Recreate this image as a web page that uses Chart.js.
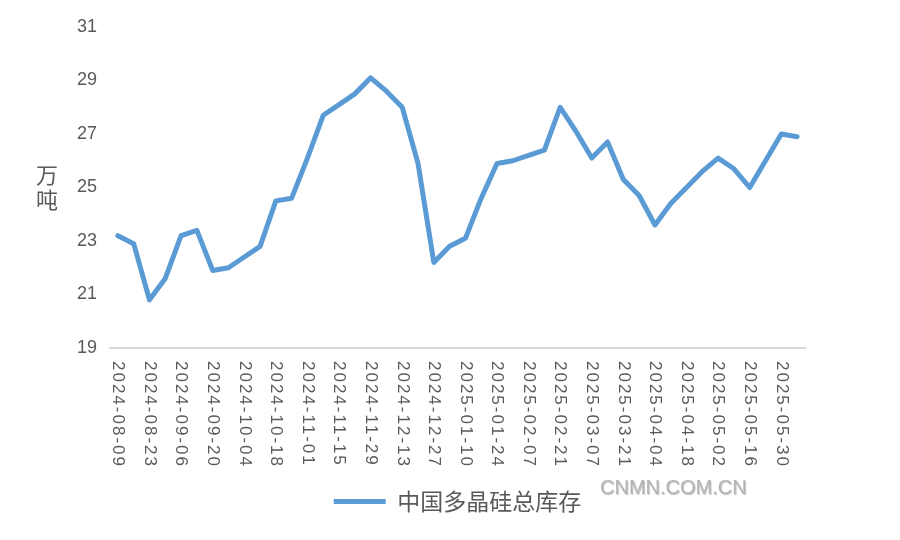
<!DOCTYPE html>
<html>
<head>
<meta charset="utf-8">
<title>中国多晶硅总库存</title>
<script src="https://cdn.jsdelivr.net/npm/chart.js@4.4.1/dist/chart.umd.min.js"></script>
<style>
  html, body { margin: 0; padding: 0; background: #ffffff; }
  #wrap { width: 900px; height: 540px; position: relative; }
</style>
</head>
<body>
<div id="wrap"><canvas id="stock_chart"></canvas></div>
<script>
// weekly dates (every Friday)
const dates = [
  '2024-08-09', '2024-08-16', '2024-08-23', '2024-08-30', '2024-09-06', '2024-09-13',
  '2024-09-20', '2024-09-27', '2024-10-04', '2024-10-11', '2024-10-18', '2024-10-25',
  '2024-11-01', '2024-11-08', '2024-11-15', '2024-11-22', '2024-11-29', '2024-12-06',
  '2024-12-13', '2024-12-20', '2024-12-27', '2025-01-03', '2025-01-10', '2025-01-17',
  '2025-01-24', '2025-01-31', '2025-02-07', '2025-02-14', '2025-02-21', '2025-02-28',
  '2025-03-07', '2025-03-14', '2025-03-21', '2025-03-28', '2025-04-04', '2025-04-11',
  '2025-04-18', '2025-04-25', '2025-05-02', '2025-05-09', '2025-05-16', '2025-05-23',
  '2025-05-30', '2025-06-06'
];

// total polysilicon stock, 10k tonnes
const stock = [
  23.2, 22.9, 20.8, 21.6, 23.2, 23.4, 21.9, 22.0, 22.4, 22.8, 24.5, 24.6,
  26.1, 27.7, 28.1, 28.5, 29.1, 28.6, 28.0, 25.9, 22.2, 22.8, 23.1, 24.6,
  25.9, 26.0, 26.2, 26.4, 28.0, 27.1, 26.1, 26.7, 25.3, 24.7, 23.6, 24.4,
  25.0, 25.6, 26.1, 25.7, 25.0, 26.0, 27.0, 26.9
];

const yTicks = [19, 21, 23, 25, 27, 29, 31];
const seriesName = '中国多晶硅总库存';
const yTitle = ['万', '吨'];
const watermark = 'CNMN.COM.CN';

const textGray = '#595959';
const lineBlue = '#5b9bd5';

// draws the rotated date labels (reading top to bottom), the stacked y title and the watermark
const extraText = {
  id: 'extraText',
  afterLayout(chart) {
    // centre the legend under the plot area instead of the whole canvas
    if (chart.legend) chart.legend.left = chart.chartArea.left;
  },
  afterDraw(chart) {
    const ctx = chart.ctx;
    const xs = chart.scales.x;
    const area = chart.chartArea;
    ctx.save();
    ctx.fillStyle = textGray;
    ctx.font = '17px "Liberation Sans", Arial, sans-serif';
    ctx.letterSpacing = '2px';
    ctx.textAlign = 'left';
    ctx.textBaseline = 'middle';
    dates.forEach((d, i) => {
      if (i % 2) return; // one label every two weeks
      ctx.save();
      ctx.translate(xs.getPixelForValue(i), area.bottom + 13);
      ctx.rotate(Math.PI / 2);
      ctx.fillText(d, 0, 0);
      ctx.restore();
    });
    ctx.letterSpacing = '0px';

    // y axis title, one character above the other
    ctx.font = '22px "Noto Sans CJK SC", sans-serif';
    ctx.textAlign = 'center';
    yTitle.forEach((ch, i) => {
      ctx.fillText(ch, 47, 175 + i * 25);
    });

    // watermark
    ctx.font = '20px "Liberation Sans", Arial, sans-serif';
    ctx.textAlign = 'left';
    ctx.shadowColor = 'rgba(0,0,0,0.25)';
    ctx.shadowOffsetX = 1;
    ctx.shadowOffsetY = 1;
    ctx.shadowBlur = 1;
    ctx.fillStyle = '#b4b4b4';
    ctx.fillText(watermark, 600, 488);
    ctx.restore();
  }
};

new Chart(document.getElementById('stock_chart'), {
  type: 'line',
  data: {
    labels: dates,
    datasets: [{
      label: seriesName,
      data: stock,
      borderColor: lineBlue,
      backgroundColor: lineBlue,
      borderWidth: 5,
      borderCapStyle: 'round',
      borderJoinStyle: 'round',
      pointRadius: 0,
      pointHoverRadius: 0,
      tension: 0,
      fill: false
    }]
  },
  options: {
    responsive: true,
    maintainAspectRatio: false,
    animation: false,
    layout: { padding: { top: 27, right: 95, bottom: 17, left: 0 } },
    plugins: {
      tooltip: { enabled: false },
      legend: {
        position: 'bottom',
        labels: {
          usePointStyle: true,
          pointStyle: 'line',
          pointStyleWidth: 52,
          color: textGray,
          padding: 10,
          font: { size: 23, family: '"Noto Sans CJK SC", sans-serif' }
        }
      }
    },
    scales: {
      x: {
        type: 'category',
        offset: true,
        grid: { display: false },
        border: { display: true, color: '#d9d9d9', width: 2 },
        ticks: { display: false },
        afterFit(s) { s.height = 132; }
      },
      y: {
        min: 19,
        max: 31,
        grid: { display: false },
        border: { display: false },
        afterBuildTicks(s) { s.ticks = yTicks.map(v => ({ value: v })); },
        afterFit(s) { s.width = 110; },
        ticks: {
          padding: 5,
          color: textGray,
          font: { size: 18, family: '"Liberation Sans", Arial, sans-serif' }
        }
      }
    }
  },
  plugins: [extraText]
});
</script>
</body>
</html>
